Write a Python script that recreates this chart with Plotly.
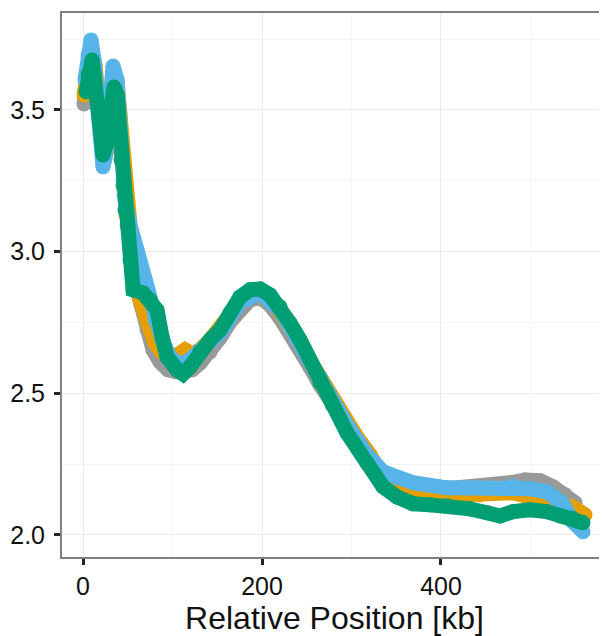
import plotly.graph_objects as go

# Relative position (kb) and values for each series
gray_x = [1.1, 5.6, 8.9, 13.4, 16.8, 20.1, 23.5, 26.8, 31.3, 34.6,
          38.0, 41.3, 43.6, 45.8, 49.2, 53.6, 59.2, 64.8, 71.5, 78.2,
          86.0, 95.0, 103.9, 112.8, 121.8, 130.7, 141.9, 153.1, 164.2, 175.4,
          186.6, 197.8, 208.9, 220.1, 231.3, 242.5, 253.6, 264.8, 278.2, 292.7,
          306.1, 320.7, 335.2, 350.8, 368.7, 387.7, 406.7, 432.4, 454.7, 477.1,
          493.8, 510.6, 525.1, 538.6, 549.8]
gray_y = [3.521, 3.641, 3.694, 3.641, 3.518, 3.394, 3.317, 3.359, 3.500, 3.606,
          3.571, 3.447, 3.324, 3.200, 3.094, 2.988, 2.882, 2.812, 2.724, 2.653,
          2.611, 2.583, 2.576, 2.576, 2.583, 2.607, 2.646, 2.695, 2.752, 2.801,
          2.830, 2.837, 2.812, 2.766, 2.713, 2.660, 2.593, 2.530, 2.459, 2.389,
          2.336, 2.272, 2.202, 2.177, 2.166, 2.163, 2.163, 2.166, 2.173, 2.184,
          2.194, 2.191, 2.170, 2.142, 2.113]

orange_x = [1.1, 5.6, 8.9, 13.4, 16.8, 20.1, 23.5, 26.8, 31.3, 34.6,
            38.0, 41.3, 43.6, 45.8, 48.0, 52.5, 58.1, 63.7, 74.9, 80.4,
            88.3, 97.2, 106.1, 114.0, 121.8, 130.7, 141.9, 153.1, 164.2, 175.4,
            186.6, 200.0, 211.2, 222.3, 233.5, 244.7, 255.9, 267.0, 278.2, 292.7,
            306.1, 320.7, 335.2, 350.8, 368.7, 387.7, 406.7, 426.8, 443.6, 462.6,
            480.4, 499.4, 518.4, 533.0, 546.3, 560.9]
orange_y = [3.553, 3.669, 3.712, 3.659, 3.535, 3.394, 3.324, 3.366, 3.518, 3.624,
            3.599, 3.482, 3.341, 3.218, 3.129, 3.006, 2.900, 2.830, 2.724, 2.678,
            2.646, 2.632, 2.636, 2.653, 2.639, 2.653, 2.688, 2.724, 2.777, 2.822,
            2.847, 2.847, 2.822, 2.777, 2.717, 2.660, 2.600, 2.540, 2.487, 2.406,
            2.346, 2.283, 2.202, 2.170, 2.159, 2.149, 2.142, 2.142, 2.142, 2.149,
            2.149, 2.134, 2.124, 2.113, 2.099, 2.071]

blue_x = [2.2, 5.6, 8.9, 12.3, 15.6, 19.0, 22.3, 25.7, 30.2, 33.5,
          38.0, 40.2, 42.5, 44.7, 46.9, 52.5, 60.3, 67.0, 72.6, 80.4,
          88.3, 97.2, 108.4, 119.5, 130.7, 153.1, 175.4, 197.8, 220.1, 242.5,
          264.8, 276.0, 295.0, 317.3, 335.2, 350.8, 368.7, 406.7, 443.6, 480.4,
          499.4, 518.4, 536.3, 547.5, 558.7]
blue_y = [3.606, 3.694, 3.747, 3.676, 3.553, 3.412, 3.299, 3.359, 3.535, 3.655,
          3.606, 3.500, 3.359, 3.253, 3.182, 3.094, 3.006, 2.918, 2.847, 2.759,
          2.688, 2.628, 2.600, 2.618, 2.653, 2.713, 2.822, 2.854, 2.794, 2.681,
          2.558, 2.491, 2.389, 2.283, 2.223, 2.202, 2.184, 2.166, 2.166, 2.173,
          2.163, 2.152, 2.110, 2.046, 2.011]

green_x = [3.4, 5.6, 10.1, 12.3, 15.6, 19.0, 22.3, 25.7, 30.2, 34.6,
           38.0, 40.2, 42.5, 44.7, 46.9, 50.3, 52.5, 55.9, 67.0, 74.9,
           82.7, 88.3, 93.9, 105.0, 111.7, 119.5, 130.7, 141.9, 153.1, 164.2,
           175.4, 186.6, 197.8, 208.9, 220.1, 231.3, 242.5, 253.6, 264.8, 276.0,
           295.0, 317.3, 335.2, 350.8, 368.7, 387.7, 406.7, 432.4, 451.4, 465.9,
           480.4, 499.4, 518.4, 533.0, 546.3, 558.7]
green_y = [3.564, 3.624, 3.676, 3.624, 3.535, 3.447, 3.341, 3.376, 3.482, 3.581,
           3.553, 3.447, 3.324, 3.235, 3.147, 3.087, 2.971, 2.865, 2.854, 2.830,
           2.794, 2.699, 2.628, 2.583, 2.568, 2.593, 2.646, 2.688, 2.724, 2.784,
           2.840, 2.865, 2.868, 2.847, 2.805, 2.748, 2.688, 2.618, 2.540, 2.477,
           2.360, 2.254, 2.170, 2.134, 2.110, 2.106, 2.103, 2.092, 2.078, 2.067,
           2.082, 2.089, 2.082, 2.067, 2.060, 2.043]

x_ticks = [0, 200, 400]
y_ticks = [2.0, 2.5, 3.0, 3.5]
y_tick_text = ["2.0", "2.5", "3.0", "3.5"]

series = [
    ("gray", gray_x, gray_y, "#999999"),
    ("orange", orange_x, orange_y, "#E69F00"),
    ("blue", blue_x, blue_y, "#56B4E9"),
    ("green", green_x, green_y, "#009E73"),
]

fig = go.Figure()
for name, xs, ys, col in series:
    fig.add_trace(go.Scatter(
        x=xs, y=ys, name=name, mode="lines+markers",
        line=dict(color=col, width=15),
        marker=dict(color=col, size=15, line=dict(width=0)),
        showlegend=False, hoverinfo="skip",
    ))

FONT = "Liberation Sans, Arial, sans-serif"
axis_font = dict(family=FONT, size=25, color="#111111")

# page body has an 8px default margin, so the figure is sized to fit inside it
fig.update_layout(
    width=599, height=628,
    margin=dict(l=54, r=0, t=5, b=79),
    paper_bgcolor="white", plot_bgcolor="white",
    font=dict(family=FONT, color="#111111"),
    xaxis=dict(
        automargin=False,
        range=[-23.5, 585.5],
        tickvals=x_ticks, ticktext=[str(v) for v in x_ticks],
        tickfont=axis_font,
        ticks="outside", ticklen=6, tickwidth=2.5, tickcolor="#222222",
        showgrid=True, gridcolor="#EBEBEB", gridwidth=1.2,
        minor=dict(tickvals=[100, 300, 500], showgrid=True, gridcolor="#F5F5F5", gridwidth=0.8, ticks=""),
        showline=True, linecolor="#7F7F7F", linewidth=2, mirror=True,
        zeroline=False,
        title=dict(text="Relative Position [kb]",
                   font=dict(family=FONT, size=32, color="#111111"),
                   standoff=0),
    ),
    yaxis=dict(
        automargin=False,
        range=[1.922, 3.842],
        tickvals=y_ticks, ticktext=y_tick_text,
        tickfont=axis_font,
        ticks="outside", ticklen=6, tickwidth=2.5, tickcolor="#222222",
        ticklabelstandoff=4,
        showgrid=True, gridcolor="#EBEBEB", gridwidth=1.2,
        minor=dict(tickvals=[2.25, 2.75, 3.25, 3.75], showgrid=True, gridcolor="#F5F5F5", gridwidth=0.8, ticks=""),
        showline=True, linecolor="#7F7F7F", linewidth=2, mirror=False,
        zeroline=False,
    ),
)

fig.write_html("out.html")
